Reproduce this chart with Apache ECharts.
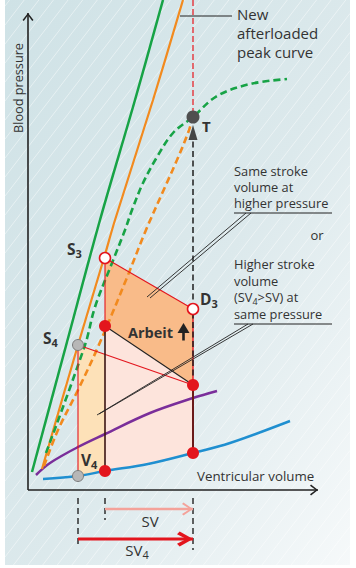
<!DOCTYPE html>
<html><head><meta charset="utf-8">
<script src="https://cdn.jsdelivr.net/npm/echarts@6/dist/echarts.min.js"></script>
<style>html,body{margin:0;padding:0;background:#fff}#c{width:356px;height:568px}</style>
</head><body><div id="c"></div>
<script>
// ---- data (volume, pressure) in schematic units ----
const greenSolid   = [[2,9],[19.5,74],[36,135],[53.5,195],[67.5,245]];
const orangeSolid  = [[7,10.5],[25,72.5],[38,116],[43.5,135],[62.5,195],[77.5,245]];
const greenDashed  = [[9,18.5],[28.5,72.5],[33.5,91.5],[42,113.5],[48.5,130],[52,140],[57.5,153.5],[64.5,166.5],[72.5,178.5],[82.5,186.5],[94.5,197],[111,203],[129.5,205.5]];
const orangeDashed = [[8,12],[15,30],[25,50],[35,71.5],[49,105],[59,130],[68.5,151.5],[74.5,165],[80,178.5],[82.5,186.5]];
const purpleCurve  = [[4,7.5],[11,13.5],[25,21.5],[38.5,28],[61,38.5],[82.5,46],[94.5,49.5]];
const blueCurve    = [[7.5,5.5],[25,7],[38.5,9.5],[60,13],[82.5,18.5],[101,23.5],[131,34.5]];

const ptT  = [82.5,186.5];
const ptS3 = [38.5,116];
const ptD3 = [82.5,90.5];
const ptR1 = [38.5,82];
const ptS4 = [25,72.5];
const ptR2 = [82.5,52.5];
const ptR3 = [82.5,18.5];
const ptR4 = [38.5,9.5];
const ptV4 = [25,7];

const volSV4 = 25, volSV = 38.5, volEnd = 82.5;
const yAxisTop = 238.5, xAxisEnd = 145;
const svLevel = -9.5, sv4Level = -24.5;
const arrowTipP = 182.5, arrowBaseP = 176;

// ---- helpers ----
const TXT = '#333';
const FONT = '"Open Sans", "Noto Sans", sans-serif';
const chevUp = 'path://M6,0 L12,8 L10.6,9.2 L6,2.6 L1.4,9.2 L0,8 Z';
const chevUpBold = 'path://M6,0 L12,8 L9.8,9.6 L6,4 L2.2,9.6 L0,8 Z';

function seg(data, color, width, type, z) {
  return {type:'line', data:data, symbol:'none', silent:true, animation:false,
    lineStyle:{color:color, width:width, type:type||'solid'}, z:z||4};
}
function curve(data, color, width, type) {
  return {type:'line', data:data, symbol:'none', smooth:0.35, silent:true, animation:false,
    lineStyle:{color:color, width:width, type:type||'solid', cap:'butt'}, z:3};
}
function arrowLine(from, to, color, width, sym, size, rot, off, z, type) {
  return {type:'line', silent:true, animation:false, symbol:'none', showSymbol:true, z:z||4,
    data:[from, {value:to, symbol:sym, symbolSize:size, symbolRotate:rot, symbolOffset:off,
      itemStyle:{color:color}}],
    itemStyle:{color:color},
    lineStyle:{color:color, width:width, type:type||'solid'}};
}
function pts(data, fill, border, bw, size) {
  return {type:'scatter', data:data, symbol:'circle', symbolSize:size, silent:true, animation:false, z:6,
    itemStyle:{color:fill, borderColor:border, borderWidth:bw, opacity:1}};
}

const bluePart = blueCurve.filter(p => p[0] >= volSV4 && p[0] <= volEnd);
const polygons = [
  {pts:[ptS4, ptR2, ...bluePart.slice().reverse()], color:'#fde1b8'},
  {pts:[ptR1, ptR2, ...bluePart.filter(p=>p[0]>=volSV).reverse()], color:'#fde4dc'},
  {pts:[ptS3, ptD3, ptR2, ptR1], color:'#f9bb89'}
];

// background stripes (decoration)
const stripes = [];
(function(){
  const k = 1.3, X0 = 5, X1 = 350, Y0 = 0, Y1 = 565;
  for (let c = Y0 + k*X0 + 6; c <= Y1 + k*X1; c += 19) {
    const xa = Math.max(X0, (c - Y1)/k), xb = Math.min(X1, (c - Y0)/k);
    if (xb > xa) stripes.push({type:'line', silent:true, z:-9,
      shape:{x1:xa, y1:c-k*xa, x2:xb, y2:c-k*xb},
      style:{stroke:'rgba(255,255,255,0.45)', lineWidth:1}});
  }
})();

function txt(x, y, text, opts) {
  return {type:'text', x:x, y:y, z:50, silent:true,
    style:Object.assign({text:text, fill:TXT, font:'13px '+FONT, align:'left', verticalAlign:'middle'}, opts||{})};
}
function subLabel(x, y, main, sub, size, bold, align) {
  const w = bold ? 'bold ' : '';
  const ss = Math.round(size*0.72);
  return {type:'text', x:x, y:y, z:50, silent:true,
    style:{text:'{a|'+main+'}{b|'+sub+'}', align:align||'left', verticalAlign:'middle',
      rich:{a:{font:w+size+'px '+FONT, fill:TXT, color:TXT, lineHeight:size+4},
            b:{font:w+ss+'px '+FONT, fill:TXT, color:TXT, lineHeight:ss, verticalAlign:'bottom'}}}};
}

const chart = echarts.init(document.getElementById('c'), null, {renderer:'svg', width:356, height:568});
chart.setOption({
  animation:false,
  backgroundColor:'#ffffff',
  grid:{left:0, right:0, top:0, bottom:0},
  xAxis:{type:'value', min:-14, max:164, show:false},
  yAxis:{type:'value', min:-39, max:245, show:false},
  graphic:{elements:[
    {type:'rect', z:-10, silent:true, shape:{x:5, y:0, width:345, height:565},
      style:{fill:{type:'linear', x:0, y:0, x2:1, y2:1, colorStops:[
        {offset:0, color:'#cfe2e6'}, {offset:0.55, color:'#dce9ec'}, {offset:1, color:'#f6f9fa'}]}}},
    ...stripes,
    txt(237, 33, 'New\nafterloaded\npeak curve', {font:'15px '+FONT, lineHeight:19}),
    txt(234, 187, 'Same stroke\nvolume at\nhigher pressure', {font:'12.8px '+FONT, lineHeight:16.3}),
    txt(317, 235, 'or', {align:'center'}),
    {type:'text', x:234, y:289, z:50, silent:true,
      style:{text:'{n|Higher stroke}\n{n|volume}\n{n|(SV}{s|4}{n|>SV) at}\n{n|same pressure}',
        align:'left', verticalAlign:'middle',
        rich:{n:{font:'12.8px '+FONT, fill:TXT, color:TXT, lineHeight:16.8},
              s:{font:'9px '+FONT, fill:TXT, color:TXT, lineHeight:11, verticalAlign:'bottom'}}}},
    {type:'text', x:18, y:88, rotation:Math.PI/2, z:50, silent:true,
      style:{text:'Blood pressure', fill:TXT, font:'12.7px '+FONT, align:'center', verticalAlign:'middle'}},
    txt(197, 476, 'Ventricular volume', {font:'13.3px '+FONT}),
    txt(202, 126, 'T', {font:'bold 15px '+FONT}),
    subLabel(67, 249, 'S', '3', 15.5, true),
    subLabel(200, 299, 'D', '3', 15.5, true),
    subLabel(43, 338, 'S', '4', 15.5, true),
    subLabel(81, 460, 'V', '4', 15.5, true),
    txt(128, 332, 'Arbeit', {font:'bold 14.5px '+FONT}),
    {type:'polygon', z:50, silent:true, shape:{points:[[177.5,333],[183.5,323],[189.5,333]]}, style:{fill:'#222'}},
    {type:'rect', z:50, silent:true, shape:{x:182.2, y:331, width:2.6, height:9.5}, style:{fill:'#222'}},
    txt(150, 521, 'SV', {font:'15px '+FONT, align:'center'}),
    subLabel(137, 550, 'SV', '4', 15, false, 'center')
  ]},
  series:[
    {type:'custom', silent:true, animation:false, z:1,
      data:polygons.map((p,i)=>[i,0]),
      renderItem:function(params, api){
        const p = polygons[params.dataIndex];
        return {type:'polygon', shape:{points:p.pts.map(q=>api.coord(q))}, style:{fill:p.color}};
      }},
    // axes
    arrowLine([0,0],[0,yAxisTop],'#222',1.6,chevUp,[11,8],0,[0,4],8),
    arrowLine([0,0],[xAxisEnd,0],'#222',1.6,chevUp,[11,8],-90,[-4,0],8),
    // curves
    curve(blueCurve,'#1f8fd0',2.5),
    curve(purpleCurve,'#7a2e9a',2.5),
    curve(greenSolid,'#17a346',2.5),
    curve(orangeSolid,'#f28a1e',2.2),
    curve(greenDashed,'#17a346',2.6,[7,4]),
    curve(orangeDashed,'#f28a1e',2.6,[7,4]),
    // verticals at end-systolic column
    seg([[volEnd,245],ptT],'#e5343a',1.4,[6,3]),
    seg([ptD3,ptR2],'#e3151d',1.4),
    seg([ptR2,[volEnd,arrowBaseP]],'#1e1e1e',1.5,[6,3.5],5),
    {type:'scatter', data:[[volEnd,arrowTipP]], symbol:'triangle', symbolSize:[9,15], symbolOffset:[0,7.5],
      silent:true, animation:false, z:5, itemStyle:{color:'#1e1e1e'}},
    seg([ptR2,ptR3],'#6a1a1a',2),
    // loops
    seg([ptS3,ptD3],'#e3151d',1.1),
    seg([ptS4,ptR2],'#e3151d',1.1),
    seg([ptS3,ptR1],'#e3151d',1.1),
    seg([ptS4,ptV4],'#e3151d',1.1),
    seg([ptR1,ptR2],'#222',1.1),
    seg([ptR1,ptR4],'#3b1514',1.6),
    // annotation leaders
    seg([[76,237],[102,237]],'#222',1),
    seg([[103,138.5],[152,138.5]],'#222',1),
    seg([[109,138.5],[59.5,96.5]],'#222',0.9),
    seg([[111.5,138.5],[61,96]],'#222',0.9),
    seg([[103,83],[152,83]],'#222',1),
    seg([[110,83],[34.5,37.5]],'#222',0.9),
    seg([[112.5,83],[35.5,38]],'#222',0.9),
    // SV guides below axis
    seg([[volSV4,-4],[volSV4,-27.5]],'#222',1.4,[6,4]),
    seg([[volSV,-4],[volSV,-15]],'#222',1.4,[6,4]),
    seg([[volEnd,-4],[volEnd,-30]],'#222',1.4,[6,4]),
    arrowLine([volSV,svLevel],[volEnd,svLevel],'#f4a29a',2.5,chevUp,[13,11],-90,[-5.5,0],5),
    arrowLine([volSV4,sv4Level],[volEnd,sv4Level],'#e3151d',3,chevUpBold,[15,16],-90,[-8,0],5),
    // points
    pts([ptR1,ptR2,ptR3,ptR4],'#e3151d','#e3151d',0,12),
    pts([ptS3,ptD3],'#ffffff','#e3151d',1.6,11),
    pts([ptS4,ptV4],'#b7b7b7','#7a7a7a',1,11),
    pts([ptT],'#4f4f4f','#4f4f4f',0,13)
  ]
});
</script></body></html>
